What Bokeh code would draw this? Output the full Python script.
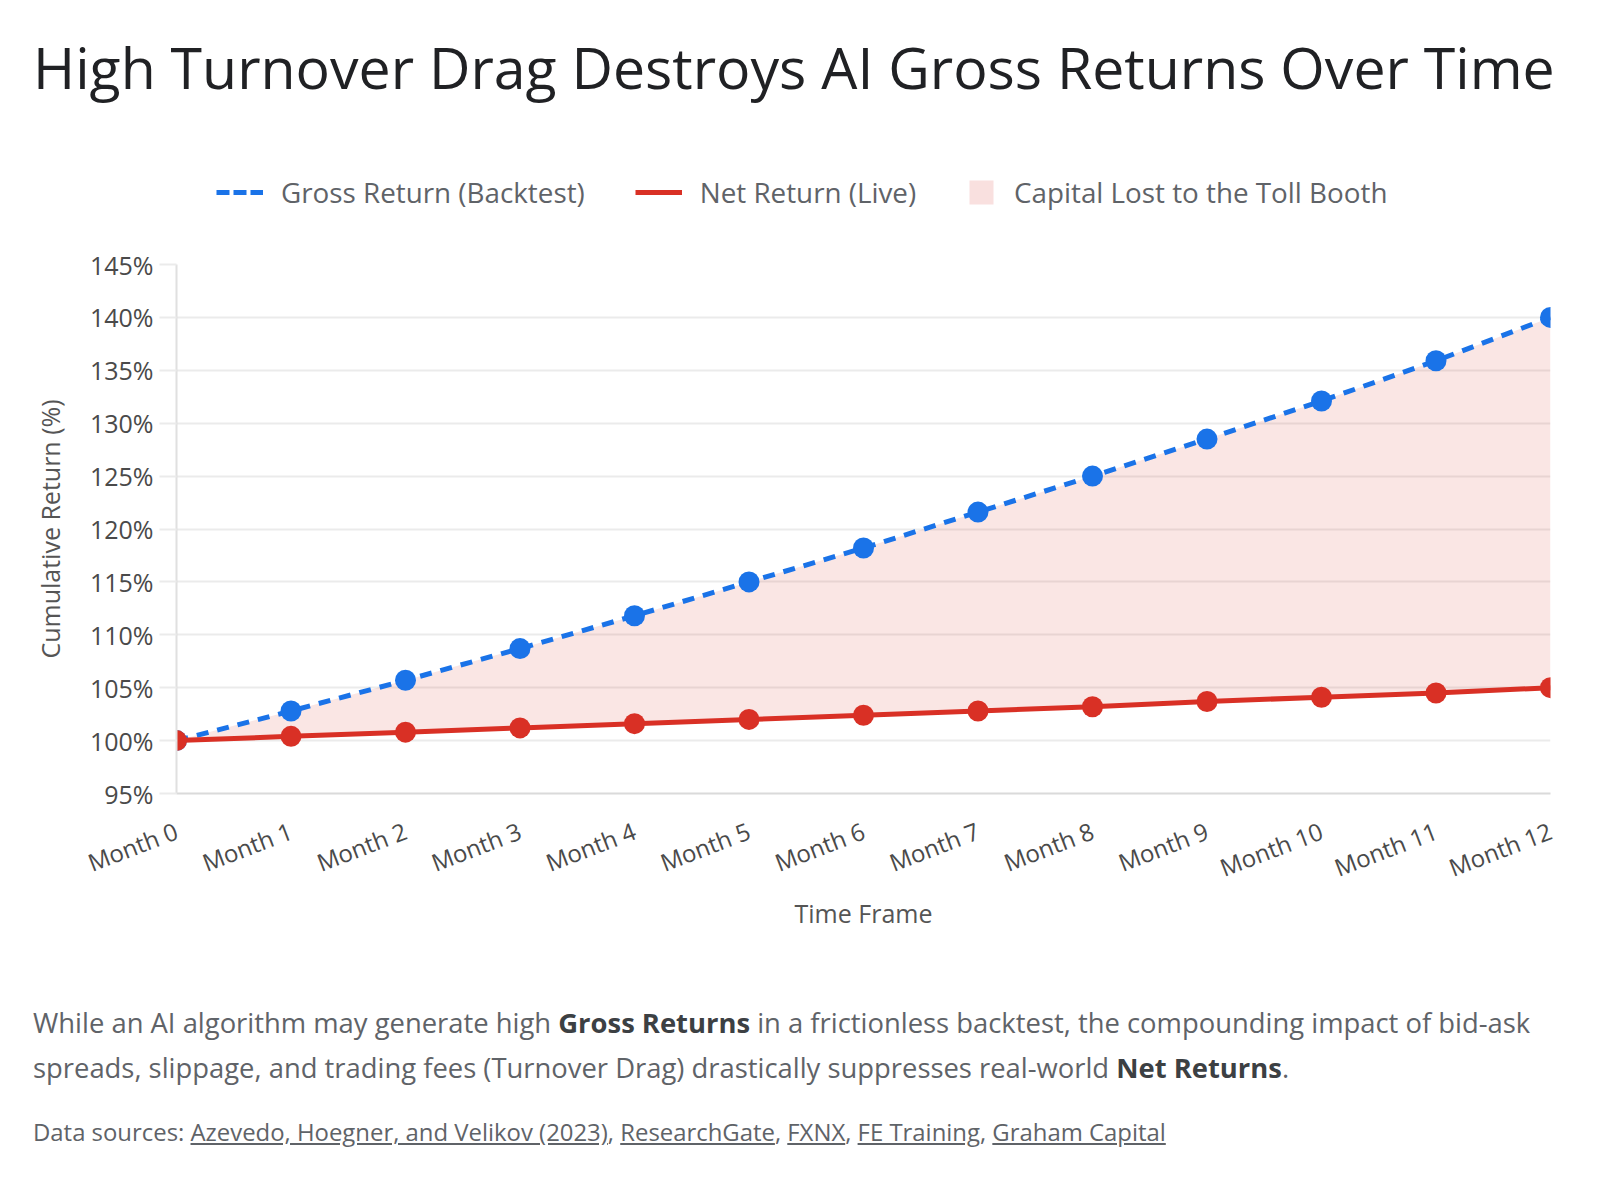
import math

from bokeh.embed import file_html
from bokeh.layouts import column
from bokeh.models import (ColumnDataSource, Div, FixedTicker, Legend, LegendItem,
                          PrintfTickFormatter, Range1d)
from bokeh.plotting import figure
from bokeh.resources import INLINE

# ---- data ---------------------------------------------------------------
months = ["Month 0", "Month 1", "Month 2", "Month 3", "Month 4", "Month 5", "Month 6",
          "Month 7", "Month 8", "Month 9", "Month 10", "Month 11", "Month 12"]
month_index = list(range(len(months)))
gross_return = [100.0, 102.8, 105.7, 108.7, 111.8, 115.0, 118.2,
                121.6, 125.0, 128.5, 132.1, 135.9, 140.0]
net_return = [100.0, 100.4, 100.8, 101.2, 101.6, 102.0, 102.4,
              102.8, 103.2, 103.7, 104.1, 104.5, 105.0]
y_ticks = [95, 100, 105, 110, 115, 120, 125, 130, 135, 140, 145]

FONT = "Open Sans"
BLUE = "#1a73e8"
RED = "#d93025"
GRID = "#ebebeb"
TEXT = "#5f6368"

GROSS_STYLE = dict(line_color=BLUE, line_width=5, line_dash="12 9")
NET_STYLE = dict(line_color=RED, line_width=5)
AREA_STYLE = dict(fill_color=RED, fill_alpha=0.12)

src = ColumnDataSource(dict(x=month_index, gross=gross_return, net=net_return))

# ---- title ----------------------------------------------------------------
title = Div(
    text=(f'<div style="font-family:\'{FONT}\';font-size:57.2px;line-height:57px;'
          f'color:#202124;padding:39px 0 0 33px;white-space:nowrap;">'
          'High Turnover Drag Destroys AI Gross Returns Over Time</div>'),
    width=1600, height=130, margin=(0, 0, 0, 0),
)

# ---- legend strip (its frame shares the chart's left edge) -------------------
key = figure(
    width=1600, height=100, x_range=Range1d(0, 1), y_range=Range1d(0, 1),
    x_axis_location=None, y_axis_location=None,
    output_backend="svg", toolbar_location=None,
    min_border=0, margin=(0, 0, 0, 0),
)
key.outline_line_color = None
key.grid.visible = False
# same series as the chart; they fall outside this strip's ranges and only feed the key
key_gross = key.line("x", "gross", source=src, line_color=BLUE, line_width=5,
                     line_dash="13 4")
key_net = key.line("x", "net", source=src, **NET_STYLE)
key_area = key.varea(x="x", y1="net", y2="gross", source=src,
                     fill_color=RED, fill_alpha=0.15)

legend_style = dict(
    orientation="horizontal", padding=0, margin=0, spacing=50,
    label_standoff=18, glyph_height=30, label_height=30,
    border_line_color=None, background_fill_alpha=0,
    label_text_font=FONT, label_text_font_size="27.8px", label_text_color=TEXT,
)
key.add_layout(Legend(
    items=[LegendItem(label="Gross Return (Backtest)", renderers=[key_gross]),
           LegendItem(label="Net Return (Live)", renderers=[key_net])],
    location=(40, 19), glyph_width=47, **legend_style,
))
key.add_layout(Legend(
    items=[LegendItem(label="Capital Lost to the Toll Booth", renderers=[key_area])],
    location=(790, 19), glyph_width=30, **legend_style,
))

# ---- chart ----------------------------------------------------------------
p = figure(
    width=1600, height=730,
    x_range=Range1d(0, 12), y_range=Range1d(95, 145),
    output_backend="svg", toolbar_location=None,
    min_border_left=176, min_border_right=50,
    min_border_top=34, min_border_bottom=167,
    margin=(0, 0, 0, 0),
)
p.outline_line_color = None
p.background_fill_color = "white"
p.border_fill_color = "white"

p.varea(x="x", y1="net", y2="gross", source=src, **AREA_STYLE)
p.line("x", "gross", source=src, **GROSS_STYLE)
p.scatter("x", "gross", source=src, size=21, fill_color=BLUE, line_color=None)
p.line("x", "net", source=src, **NET_STYLE)
p.scatter("x", "net", source=src, size=21, fill_color=RED, line_color=None)

# x axis
x_ticker = FixedTicker(ticks=month_index)
p.xaxis.ticker = x_ticker
p.xaxis.major_label_overrides = {i: m for i, m in zip(month_index, months)}
p.xaxis.major_label_orientation = math.radians(21)
p.xaxis.major_label_text_font = FONT
p.xaxis.major_label_text_font_size = "24px"
p.xaxis.major_label_text_color = "#4a4a4a"
p.xaxis.major_label_standoff = 30
p.xaxis.major_tick_line_color = None
p.xaxis.minor_tick_line_color = None
p.xaxis.axis_line_color = "#dadada"
p.xaxis.axis_line_width = 2
p.xaxis.axis_label = "Time Frame"
p.xaxis.axis_label_text_font = FONT
p.xaxis.axis_label_text_font_size = "25px"
p.xaxis.axis_label_text_font_style = "normal"
p.xaxis.axis_label_text_color = "#555555"
p.xaxis.axis_label_standoff = -6
p.xgrid.visible = False

# y axis
y_ticker = FixedTicker(ticks=y_ticks)
p.yaxis.ticker = y_ticker
p.ygrid.ticker = y_ticker
p.yaxis.formatter = PrintfTickFormatter(format="%d%%")
p.yaxis.major_label_text_font = FONT
p.yaxis.major_label_text_font_size = "25px"
p.yaxis.major_label_text_color = "#4a4a4a"
p.yaxis.major_tick_out = 17
p.yaxis.major_tick_in = 0
p.yaxis.major_tick_line_color = GRID
p.yaxis.major_tick_line_width = 2
p.yaxis.major_label_standoff = 6
p.yaxis.minor_tick_line_color = None
p.yaxis.axis_line_color = "#e0e0e0"
p.yaxis.axis_line_width = 2
p.yaxis.axis_label = "Cumulative Return (%)"
p.yaxis.axis_label_text_font = FONT
p.yaxis.axis_label_text_font_size = "25px"
p.yaxis.axis_label_text_font_style = "normal"
p.yaxis.axis_label_text_color = "#555555"
p.yaxis.axis_label_standoff = 20
p.ygrid.grid_line_color = GRID
p.ygrid.grid_line_width = 2

# ---- notes ----------------------------------------------------------------
u = 'style="text-decoration:underline;"'
notes = Div(
    text=(f'<div style="font-family:\'{FONT}\';color:{TEXT};padding:40px 0 0 33px;">'
          '<div style="font-size:27.4px;line-height:45px;white-space:nowrap;">'
          'While an AI algorithm may generate high <b style="color:#3c4043;">Gross Returns</b> '
          'in a frictionless backtest, the compounding impact of bid-ask<br>'
          'spreads, slippage, and trading fees (Turnover Drag) drastically suppresses '
          'real-world <b style="color:#3c4043;">Net Returns</b>.</div>'
          '<div style="font-size:23.9px;line-height:30px;margin-top:27px;white-space:nowrap;">'
          f'Data sources: <span {u}>Azevedo, Hoegner, and Velikov (2023)</span>, '
          f'<span {u}>ResearchGate</span>, <span {u}>FXNX</span>, '
          f'<span {u}>FE Training</span>, <span {u}>Graham Capital</span></div>'
          '</div>'),
    width=1600, height=240, margin=(0, 0, 0, 0),
)

layout = column(title, key, p, notes, spacing=0, margin=(0, 0, 0, 0))

with open("out.html", "w") as f:
    f.write(file_html(layout, INLINE, title="High Turnover Drag"))
